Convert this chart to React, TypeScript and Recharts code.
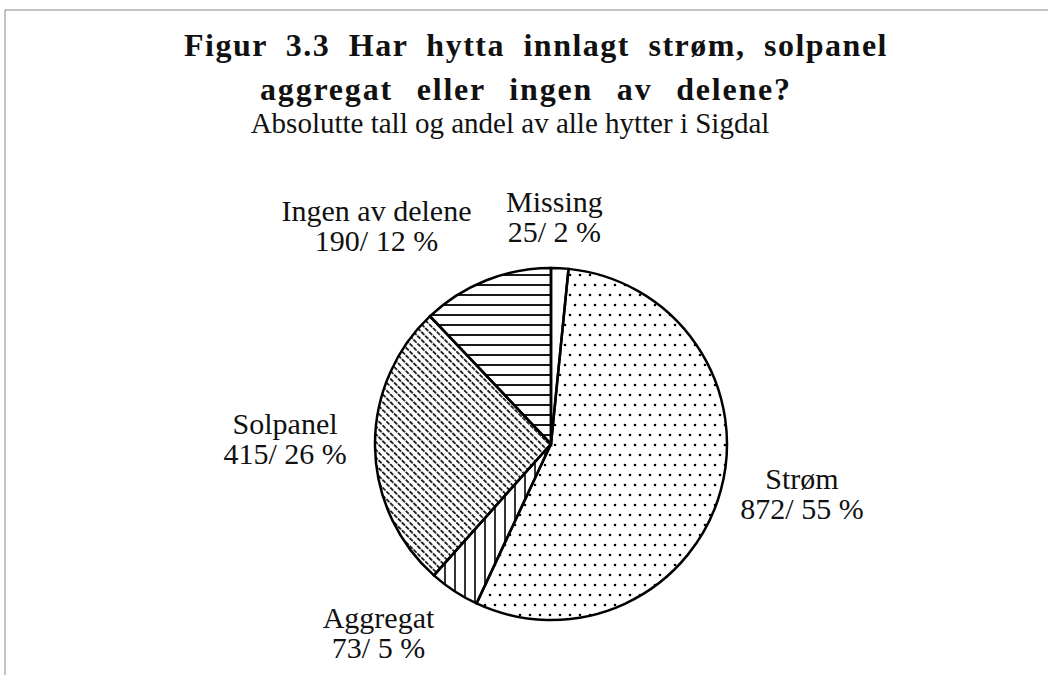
import { Pie, PieChart, Cell } from "recharts"

// categories in drawing order, clockwise from 12 o'clock
const categories = ["Missing", "Strøm", "Aggregat", "Solpanel", "Ingen av delene"]
const counts = [25, 872, 73, 415, 190]
const fills = ["#fff", "url(#dots)", "url(#vlines)", "url(#diag)", "url(#hlines)"]

const titleLines = ["Figur 3.3 Har hytta innlagt strøm, solpanel", "aggregat eller ingen av delene?"]
const subtitle = "Absolutte tall og andel av alle hytter i Sigdal"

// small label nudges (degrees / px) so labels sit where the original put them
const labelNudge: Record<string, { da: number; dr: number }> = {
    "Missing": { da: 2, dr: -29 },
    "Strøm": { da: 4, dr: 0 },
    "Solpanel": { da: -2, dr: 10 },
    "Ingen av delene": { da: 17, dr: 23 },
    "Aggregat": { da: -9, dr: 0 },
}

const data = categories.map((name, i) => ({ name, value: counts[i], fill: fills[i] }))

const FONT = "'Liberation Serif', 'Times New Roman', serif"

export default function App() {
    return (
        <div style={{ position: "absolute", left: 0, top: 0, width: 1048, height: 675, background: "#fff" }}>
            <PieChart width={1048} height={675}>
                <defs>
                    <pattern id="dots" width="10" height="20" patternUnits="userSpaceOnUse">
                        <circle cx="5" cy="5" r="1.3" fill="#000" />
                        <circle cx="0" cy="15" r="1.3" fill="#000" />
                        <circle cx="10" cy="15" r="1.3" fill="#000" />
                    </pattern>
                    <pattern id="vlines" width="10" height="10" patternUnits="userSpaceOnUse">
                        <line x1="5" y1="0" x2="5" y2="10" stroke="#000" strokeWidth="1.6" />
                    </pattern>
                    <pattern id="hlines" width="10" height="10" patternUnits="userSpaceOnUse">
                        <line x1="0" y1="5" x2="10" y2="5" stroke="#000" strokeWidth="1.8" />
                    </pattern>
                    <pattern id="diag" width="5.5" height="5.5" patternUnits="userSpaceOnUse" patternTransform="rotate(-45)">
                        <line x1="2.75" y1="0" x2="2.75" y2="5.5" stroke="#000" strokeWidth="1.6" strokeDasharray="3.5 1" />
                    </pattern>
                </defs>
                <Pie
                    data={data}
                    dataKey="value"
                    nameKey="name"
                    cx={546}
                    cy={439}
                    outerRadius={176}
                    startAngle={90}
                    endAngle={-270}
                    stroke="#000"
                    strokeWidth={2.5}
                    isAnimationActive={false}
                    labelLine={false}
                    label={({ cx, cy, midAngle, outerRadius, name, value, percent }) => {
                        const n = labelNudge[name] || { da: 0, dr: 0 }
                        const ang = (midAngle + n.da) * (Math.PI / 180)
                        const r = outerRadius + 80 + n.dr
                        const x = cx + r * Math.cos(-ang)
                        const y = cy + r * Math.sin(-ang)
                        return (
                            <text x={x} y={y} fill="#111" textAnchor="middle" fontFamily={FONT} fontSize={30}>
                                <tspan x={x} y={y - 5}>{name}</tspan>
                                <tspan x={x} y={y + 25}>{`${value}/ ${Math.round(percent * 100)} %`}</tspan>
                            </text>
                        )
                    }}
                >
                    {data.map((entry, index) => (
                        <Cell key={`cell-${index}`} fill={entry.fill} />
                    ))}
                </Pie>
            </PieChart>
            <svg width={1048} height={675} style={{ position: "absolute", left: 0, top: 0, pointerEvents: "none" }}>
                <line x1={5} y1={10} x2={1048} y2={10} stroke="#888" strokeWidth={1} />
                <line x1={5} y1={10} x2={5} y2={675} stroke="#888" strokeWidth={1} />
                <text x={536} y={56} textAnchor="middle" fontFamily={FONT} fontWeight="bold" fontSize={32}
                    letterSpacing={1.5} wordSpacing={9} fill="#111">{titleLines[0]}</text>
                <text x={526} y={100} textAnchor="middle" fontFamily={FONT} fontWeight="bold" fontSize={32}
                    letterSpacing={1.8} wordSpacing={14} fill="#111">{titleLines[1]}</text>
                <text x={510} y={133} textAnchor="middle" fontFamily={FONT} fontSize={29} fill="#111">{subtitle}</text>
            </svg>
        </div>
    )
}
